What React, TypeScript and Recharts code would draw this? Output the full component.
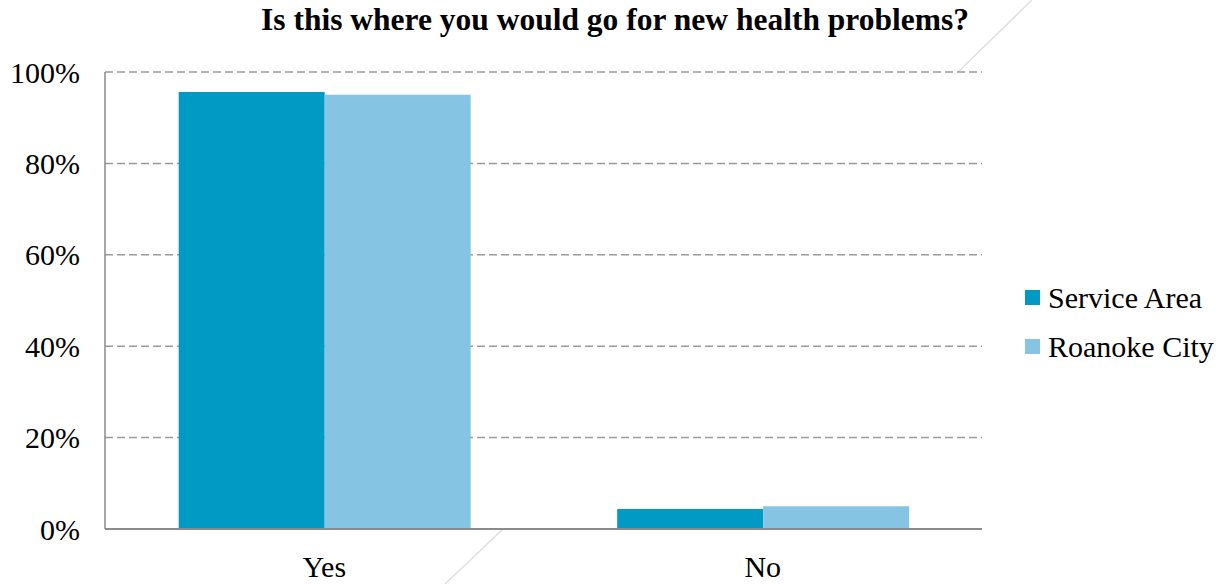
import React from 'react';
import { BarChart, Bar, XAxis, YAxis, CartesianGrid, Customized } from 'recharts';

const categories = ['Yes', 'No'];
const serviceArea = [95.6, 4.4];
const roanokeCity = [95.0, 5.0];
const yTicks = [0, 20, 40, 60, 80, 100];
const seriesNames = ['Service Area', 'Roanoke City'];
const seriesColors = ['#009AC5', '#86C4E4'];
const title = 'Is this where you would go for new health problems?';

const data = categories.map((c, i) => ({ name: c, sa: serviceArea[i], rc: roanokeCity[i] }));

const FONT = '"Liberation Serif", "Times New Roman", serif';

const LegendBox = () => (
  <div style={{ position: 'absolute', left: 1025, top: 273, fontFamily: FONT, fontSize: 30, color: '#000', lineHeight: 1 }}>
    {seriesNames.map((n, i) => (
      <div key={n} style={{ display: 'flex', alignItems: 'center', height: 49 }}>
        <div style={{ width: 15, height: 15, background: seriesColors[i], marginRight: 8 }} />
        <span>{n}</span>
      </div>
    ))}
  </div>
);

const Title = () => (
  <text x={615} y={30} textAnchor="middle" fontFamily={FONT} fontWeight="bold" fontSize={31.5} fill="#000">
    {title}
  </text>
);

export default function App() {
  return (
    <div style={{ position: 'relative', width: 1225, height: 584, background: '#fff' }}>
      <style>{'body{margin:0}'}</style>
      <svg width={1225} height={584} style={{ position: 'absolute', left: 0, top: 0 }}>
        <line x1={1032} y1={0} x2={958} y2={72} stroke="#e0e0e0" strokeWidth={1.5} />
        <line x1={503} y1={529} x2={445} y2={584} stroke="#e0e0e0" strokeWidth={1.5} />
      </svg>
      <div style={{ position: 'absolute', left: 0, top: 0 }}>
        <BarChart
          width={1225}
          height={584}
          data={data}
          margin={{ top: 72, right: 243, bottom: 0, left: 0 }}
          barCategoryGap="16.8%"
          barGap={0}
        >
          <CartesianGrid vertical={false} stroke="#9a9a9a" strokeDasharray="8 4" strokeWidth={1.5} fill="#fff" />
          <XAxis
            dataKey="name"
            height={55}
            tickLine={false}
            tickSize={0}
            tickMargin={27}
            axisLine={{ stroke: '#8a8a8a', strokeWidth: 2 }}
            tick={{ fontFamily: FONT, fontSize: 30, fill: '#000' }}
          />
          <YAxis
            width={105}
            domain={[0, 100]}
            ticks={yTicks}
            tickFormatter={(v: number) => `${v}%`}
            tickLine={false}
            tickSize={0}
            tickMargin={25}
            axisLine={{ stroke: '#8a8a8a', strokeWidth: 1.5 }}
            tick={{ fontFamily: FONT, fontSize: 30, fill: '#000' }}
            interval={0}
          />
          <Bar dataKey="sa" name={seriesNames[0]} fill={seriesColors[0]} isAnimationActive={false} />
          <Bar dataKey="rc" name={seriesNames[1]} fill={seriesColors[1]} isAnimationActive={false} />
          <Customized component={Title} />
        </BarChart>
      </div>
      <LegendBox />
    </div>
  );
}
